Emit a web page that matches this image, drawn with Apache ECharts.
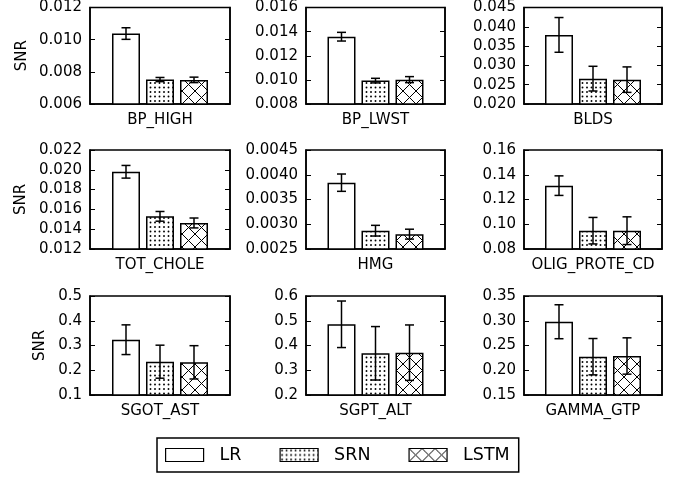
<!DOCTYPE html>
<html><head><meta charset="utf-8">
<script src="https://cdn.jsdelivr.net/npm/echarts@6/dist/echarts.min.js"></script>
<style>html,body{margin:0;padding:0;background:#fff}#c{width:688px;height:480px}</style>
</head><body><div id="c"></div>
<script>
const categories = ['BP_HIGH','BP_LWST','BLDS','TOT_CHOLE','HMG','OLIG_PROTE_CD','SGOT_AST','SGPT_ALT','GAMMA_GTP'];
const seriesNames = ['LR','SRN','LSTM'];
const lrMean   = [0.01038,0.01358,0.0379,0.0198,0.00384,0.1312,0.3234,0.4857,0.298];
const lrErr    = [0.00036,0.00036,0.0045,0.00064,0.000175,0.0079,0.060,0.094,0.0343];
const srnMean  = [0.00752,0.00994,0.02657,0.0153,0.00287,0.0948,0.2346,0.3685,0.2274];
const srnErr   = [0.00013,0.00019,0.0032,0.00049,0.000108,0.0107,0.0667,0.108,0.0367];
const lstmMean = [0.00750,0.01002,0.02631,0.01463,0.00280,0.0948,0.2320,0.3710,0.2288];
const lstmErr  = [0.00017,0.00025,0.0033,0.00050,0.000100,0.0112,0.0673,0.112,0.0367];
const yMin = [0.006,0.008,0.020,0.012,0.0025,0.08,0.1,0.2,0.15];
const yMax = [0.012,0.016,0.045,0.022,0.0045,0.16,0.5,0.6,0.35];
const yStep = [0.002,0.002,0.005,0.002,0.0005,0.02,0.1,0.1,0.05];
const yDecimals = [3,3,3,3,4,2,1,1,2];

const FONT = 'DejaVu Sans';
function dotPattern(){
  const c=document.createElement('canvas'); c.width=9; c.height=9;
  const g=c.getContext('2d'); g.fillStyle='#fff'; g.fillRect(0,0,9,9);
  g.fillStyle='#000';
  [[2,2],[6.5,2],[2,6.5],[6.5,6.5]].forEach(p=>{g.beginPath();g.arc(p[0],p[1],0.95,0,Math.PI*2);g.fill();});
  return c;
}
function crossPattern(){
  const s=13;
  const c=document.createElement('canvas'); c.width=s; c.height=s;
  const g=c.getContext('2d'); g.fillStyle='#fff'; g.fillRect(0,0,s,s);
  g.strokeStyle='#000'; g.lineWidth=1;
  g.beginPath(); g.moveTo(-1,-1); g.lineTo(s+1,s+1); g.moveTo(s+1,-1); g.lineTo(-1,s+1); g.stroke();
  return c;
}
const fills = ['#ffffff', {image: dotPattern(), repeat:'repeat'}, {image: crossPattern(), repeat:'repeat'}];
const means = [lrMean, srnMean, lstmMean];
const errs = [lrErr, srnErr, lstmErr];

const colLeft = [90, 306, 524];
const colWidth = [140, 139, 138];
const rowTop = [5, 150, 296];
const panelH = 99;
const nameGaps = [60, 61, 42];
const BW = 28, GAP = 6;

const grid=[], xAxis=[], yAxis=[], series=[];
for (let i=0;i<9;i++){
  const r=Math.floor(i/3), c=i%3;
  grid.push({left:colLeft[c], top:rowTop[r], width:colWidth[c], height:panelH, show:true, borderColor:'#000', borderWidth:1.5, backgroundColor:'transparent'});
  xAxis.push({type:'category', gridIndex:i, data:[categories[i]],
    axisTick:{show:false}, axisLine:{show:true, lineStyle:{color:'#000', width:1.5}},
    axisLabel:{color:'#000', fontFamily:FONT, fontSize:15, margin:9}});
  const yl = {type:'value', gridIndex:i, min:yMin[i], max:yMax[i], interval:yStep[i],
    splitLine:{show:false}, axisLine:{show:true, lineStyle:{color:'#000', width:1.5}},
    axisTick:{show:true, inside:true, length:5, lineStyle:{color:'#000', width:1}},
    axisLabel:{color:'#000', fontFamily:FONT, fontSize:15, margin:8,
      formatter:(v)=>v.toFixed(yDecimals[i])}};
  if (c===0){ Object.assign(yl,{name:'SNR', nameLocation:'middle', nameGap:nameGaps[r], nameRotate:90,
    nameTextStyle:{color:'#000', fontFamily:FONT, fontSize:15}}); }
  yAxis.push(yl);
  yAxis.push({type:'value', gridIndex:i, position:'right', min:yMin[i], max:yMax[i], interval:yStep[i],
    splitLine:{show:false}, axisLine:{show:true, lineStyle:{color:'#000', width:1.5}},
    axisTick:{show:true, inside:true, length:5, lineStyle:{color:'#000', width:1}},
    axisLabel:{show:false}});
  for (let k=0;k<3;k++){
    series.push({type:'bar', name:seriesNames[k], xAxisIndex:i, yAxisIndex:2*i,
      data:[means[k][i]], barWidth:BW, barGap:(GAP/BW*100)+'%', silent:true,
      itemStyle:{color:fills[k], borderColor:'#000', borderWidth:1.5}});
  }
  for (let k=0;k<3;k++){
    const off=(k-1)*(BW+GAP);
    series.push({type:'custom', name:'err'+k, xAxisIndex:i, yAxisIndex:2*i, silent:true, z:10,
      encode:{x:0,y:1},
      data:[[0, means[k][i], errs[k][i]]],
      renderItem:(params, api)=>{
        const m=api.value(1), e=api.value(2);
        const t=api.coord([0,m+e]), b=api.coord([0,m-e]);
        const x=t[0]+off, st={stroke:'#000', lineWidth:1.5};
        return {type:'group', children:[
          {type:'line', shape:{x1:x,y1:t[1],x2:x,y2:b[1]}, style:st},
          {type:'line', shape:{x1:x-4.5,y1:t[1],x2:x+4.5,y2:t[1]}, style:st},
          {type:'line', shape:{x1:x-4.5,y1:b[1],x2:x+4.5,y2:b[1]}, style:st}
        ]};
      }});
  }
}

const chart = echarts.init(document.getElementById('c'), null, {renderer:'canvas'});
chart.setOption({
  animation:false,
  backgroundColor:'#fff',
  grid, xAxis, yAxis, series,
  legend:{data:seriesNames, left:157, top:438, orient:'horizontal', icon:'rect',
    itemWidth:38, itemHeight:13, itemGap:38, padding:[8,9,8,8],
    borderColor:'#000', borderWidth:1.5, selectedMode:false,
    itemStyle:{borderColor:'#000', borderWidth:1.2},
    textStyle:{color:'#000', fontFamily:FONT, fontSize:17.5, padding:[0,0,0,11]}}
});
</script></body></html>
